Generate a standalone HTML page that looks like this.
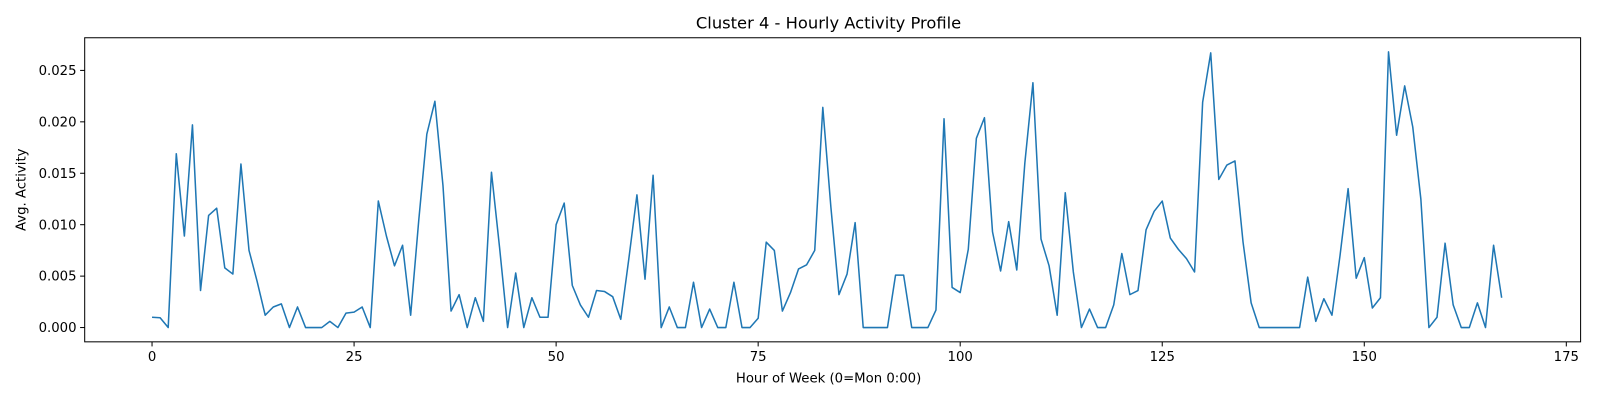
<!DOCTYPE html>
<html><head><meta charset="utf-8">
<style>
html,body{margin:0;padding:0;background:#fff;}
svg{display:block;font-family:"DejaVu Sans","Liberation Sans",sans-serif;}
</style></head>
<body>
<svg id="chart" width="1600" height="400" viewBox="0 0 1600 400" xmlns="http://www.w3.org/2000/svg">
<rect width="1600" height="400" fill="#fff"/>
<g transform="scale(1.0204)">
<text x="812" y="28" text-anchor="middle" font-size="16" fill="#000">Cluster 4 - Hourly Activity Profile</text>
<g id="xticks"></g><g id="yticks"></g>
<path id="line" fill="none" stroke="#1f77b4" stroke-width="1.5" stroke-linejoin="round"/>
<rect x="83" y="37" width="1466" height="298" fill="none" stroke="#000" stroke-width="1"/>
<text x="812" y="375" text-anchor="middle" font-size="13" fill="#000">Hour of Week (0=Mon 0:00)</text>
<text x="25" y="186" text-anchor="middle" font-size="13" fill="#000" transform="rotate(-90 25 186)">Avg. Activity</text>
</g>
</svg>
<script>
const values = [0.0010,0.00095,0,0.0169,0.0089,0.0197,0.0036,0.0109,0.0116,0.0058,
0.0052,0.0159,0.0075,0.0045,0.0012,0.0020,0.0023,0,0.0020,0,
0,0,0.0006,0,0.0014,0.0015,0.0020,0,0.0123,0.0089,
0.0060,0.0080,0.0012,0.0104,0.0188,0.0220,0.0138,0.0016,0.0032,0,
0.0029,0.0006,0.0151,0.0078,0,0.0053,0,0.0029,0.0010,0.0010,
0.0100,0.0121,0.0041,0.0022,0.0010,0.0036,0.0035,0.0030,0.0008,0.0067,
0.0129,0.0047,0.0148,0,0.0020,0,0,0.0044,0,0.0018,
0,0,0.0044,0,0,0.0009,0.0083,0.0075,0.0016,0.0034,
0.0057,0.0061,0.0075,0.0214,0.0117,0.0032,0.0052,0.0102,0,0,
0,0,0.0051,0.0051,0,0,0,0.0017,0.0203,0.0039,
0.0034,0.0076,0.0184,0.0204,0.0093,0.0055,0.0103,0.0056,0.0160,0.0238,
0.0086,0.0060,0.0012,0.0131,0.0054,0,0.0018,0,0,0.0022,
0.0072,0.0032,0.0036,0.0095,0.0113,0.0123,0.0087,0.0076,0.0067,0.0054,
0.0219,0.0267,0.0144,0.0158,0.0162,0.0083,0.0024,0,0,0,
0,0,0,0.0049,0.0006,0.0028,0.0012,0.0070,0.0135,0.0048,
0.0068,0.0019,0.0029,0.0268,0.0187,0.0235,0.0195,0.0125,0,0.0010,
0.0082,0.0022,0,0,0.0024,0,0.0080,0.0029];
const xTickLabels = ["0","25","50","75","100","125","150","175"];
const yTickLabels = ["0.000","0.005","0.010","0.015","0.020","0.025"];

const NS = "http://www.w3.org/2000/svg";
const xs = h => 149 + h * 7.92;
const ys = v => 321 - v * 10080;

const path = document.getElementById('line');
path.setAttribute('d', values.map((v,i)=>(i?'L':'M')+xs(i).toFixed(2)+' '+ys(v).toFixed(2)).join(' '));

const xg = document.getElementById('xticks');
xTickLabels.forEach(t=>{
  const x = xs(parseFloat(t));
  const l = document.createElementNS(NS,'line');
  
  
  l.setAttribute('x1',x);l.setAttribute('x2',x);l.setAttribute('y1',335);l.setAttribute('y2',339.5);
  l.setAttribute('stroke','#000');
  xg.appendChild(l);
  const tx = document.createElementNS(NS,'text');
  
  
  tx.setAttribute('x',x);tx.setAttribute('y',354);tx.setAttribute('text-anchor','middle');tx.setAttribute('font-size','13');
  tx.textContent = t;
  xg.appendChild(tx);
});
const yg = document.getElementById('yticks');
yTickLabels.forEach(t=>{
  const y = ys(parseFloat(t));
  const l = document.createElementNS(NS,'line');
  
  
  l.setAttribute('x1',78.5);l.setAttribute('x2',83);l.setAttribute('y1',y);l.setAttribute('y2',y);
  l.setAttribute('stroke','#000');
  yg.appendChild(l);
  const tx = document.createElementNS(NS,'text');
  
  
  tx.setAttribute('x',75);tx.setAttribute('y',y+4.5);tx.setAttribute('text-anchor','end');tx.setAttribute('font-size','13');
  tx.textContent = t;
  yg.appendChild(tx);
});
</script>
</body></html>
